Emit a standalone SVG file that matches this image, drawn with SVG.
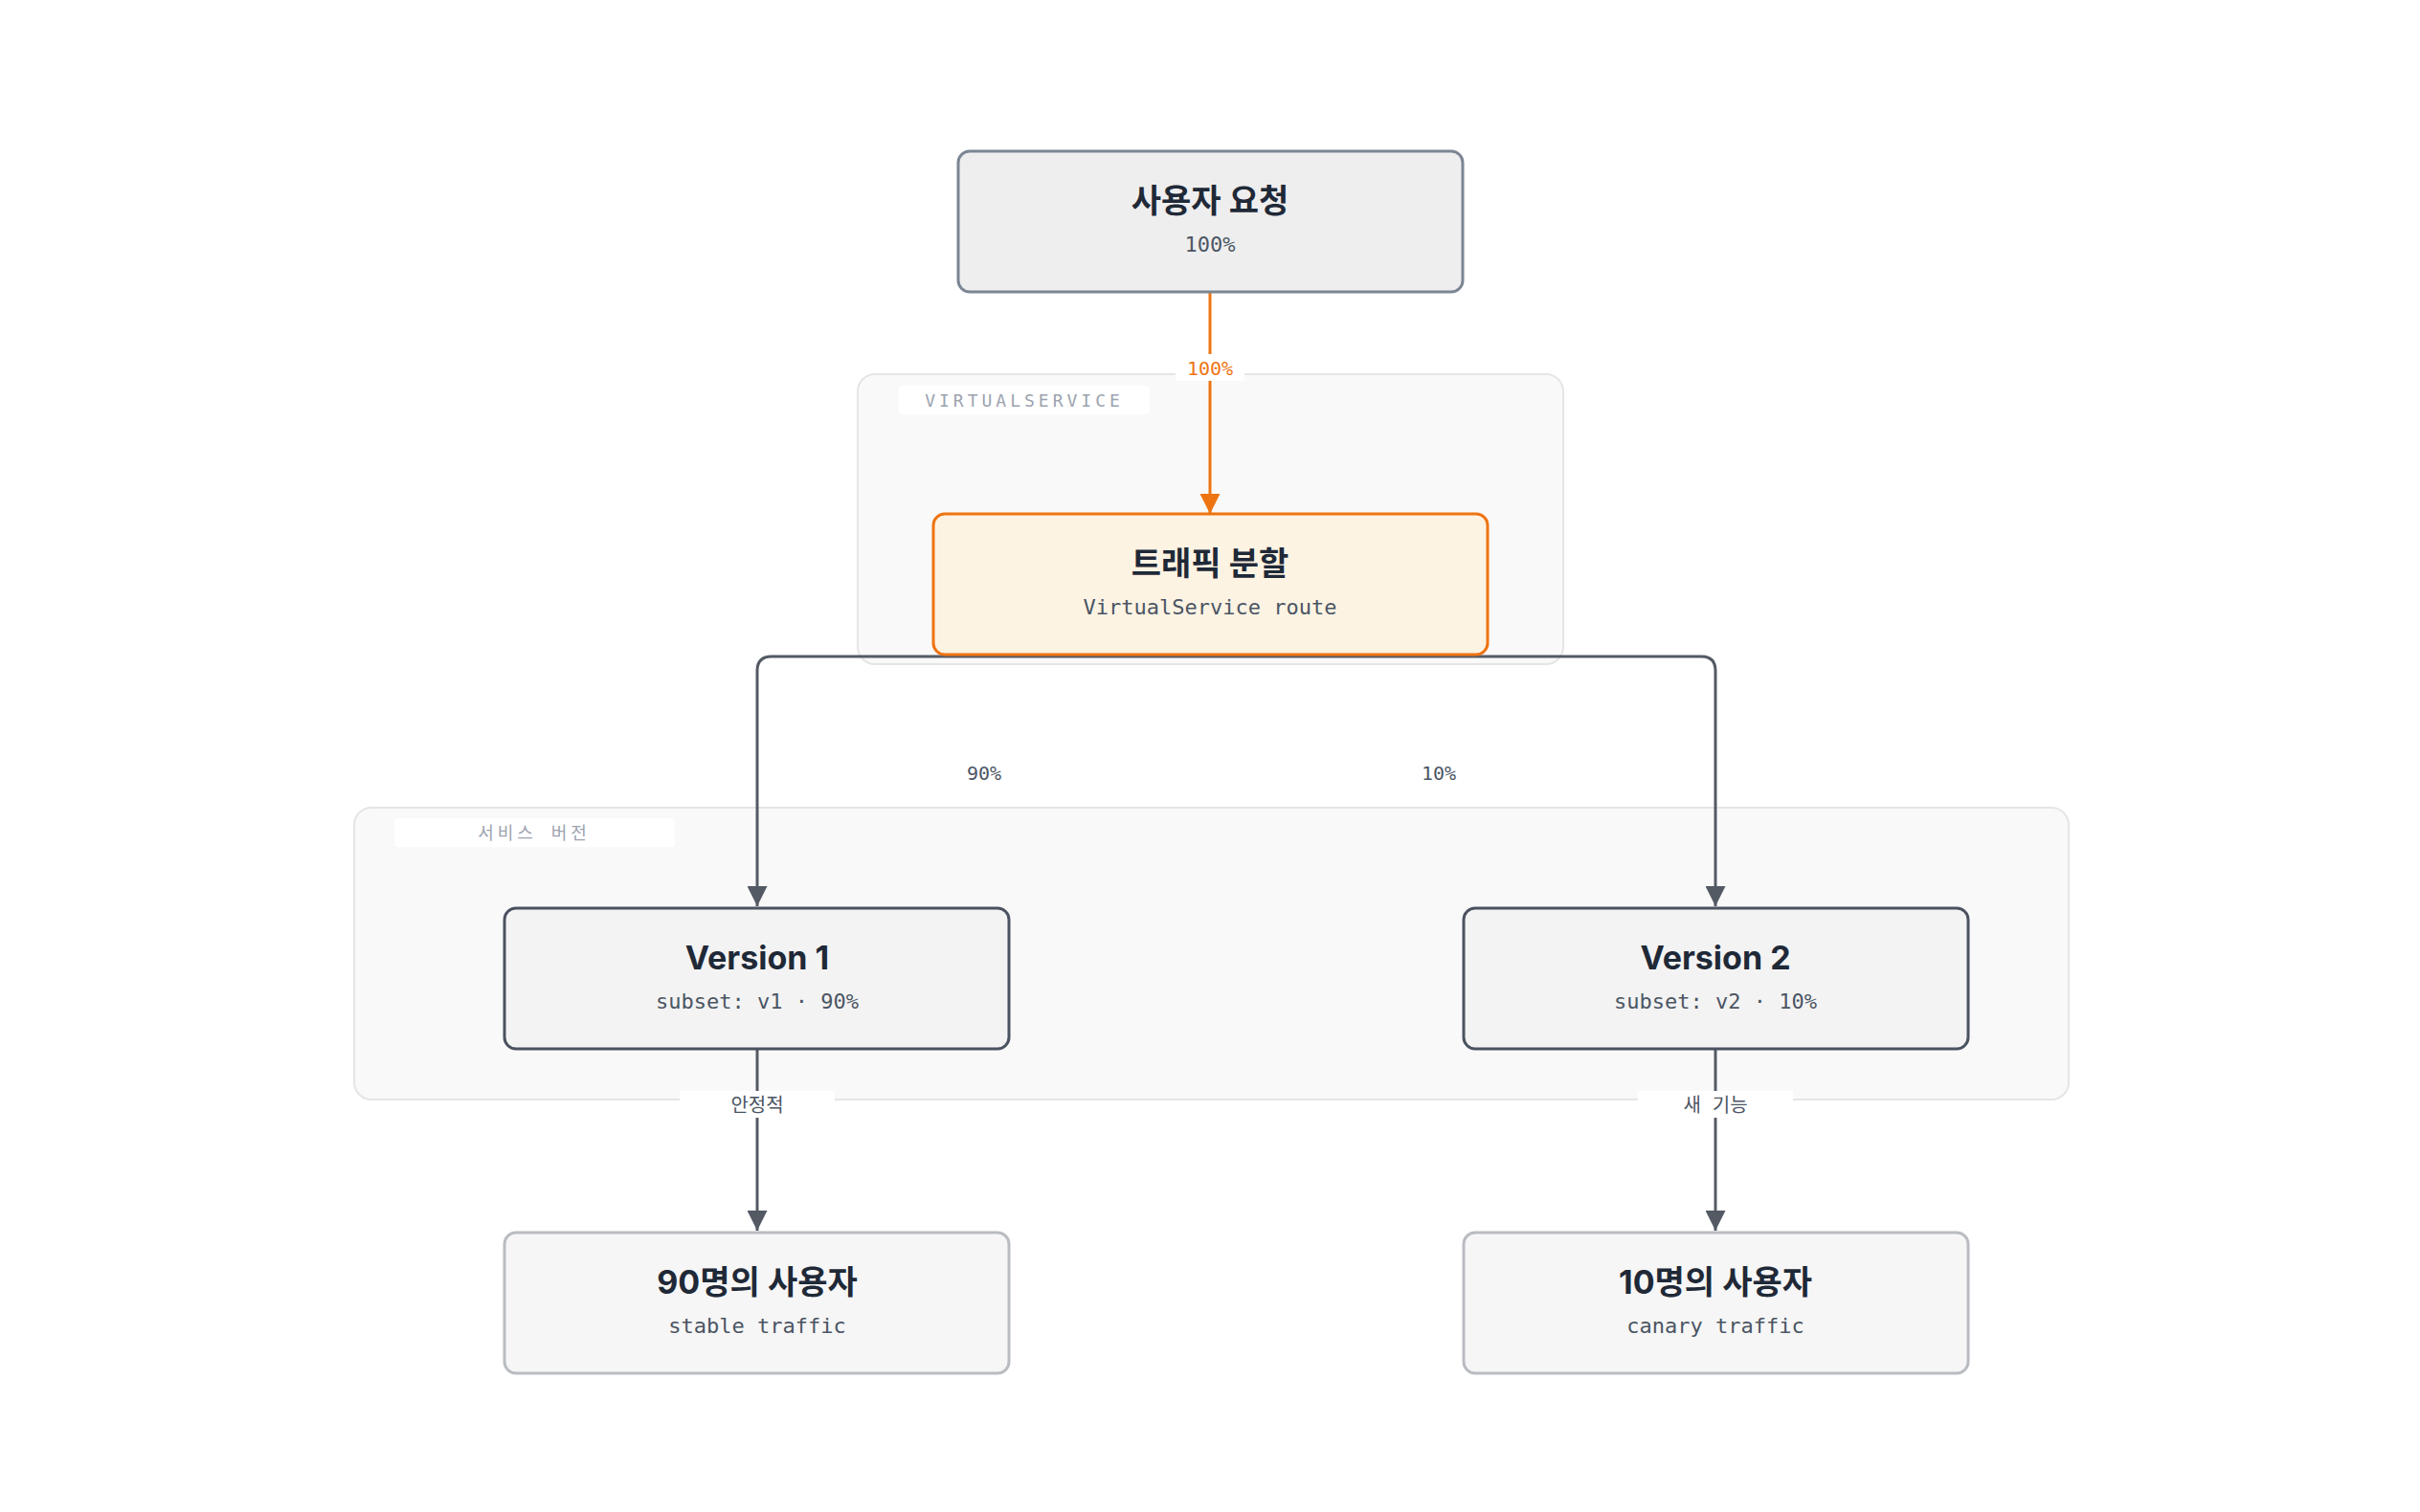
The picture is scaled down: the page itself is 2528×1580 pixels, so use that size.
<svg xmlns="http://www.w3.org/2000/svg" width="2528" height="1580" viewBox="0 0 2528 1580">
<style>
.t{font-family:Inter,"Noto Sans CJK KR",sans-serif;font-weight:700;font-size:34px;fill:#1f2937;text-anchor:middle}
.s{font-family:"DejaVu Sans Mono","Liberation Mono","Noto Sans CJK KR",monospace;font-size:22px;fill:#4b5563;text-anchor:middle}
.el{font-family:"DejaVu Sans Mono","Noto Sans CJK KR",monospace;font-size:20px;fill:#4b5563;text-anchor:middle}
.gl{font-family:"DejaVu Sans Mono","Noto Sans CJK KR",monospace;font-size:18px;fill:#9ca3af;letter-spacing:4px;text-anchor:middle}
.e{fill:none;stroke:#545a64;stroke-width:3}
</style>
<defs>
<marker id="ag" viewBox="0 0 10 10" refX="10" refY="5" markerWidth="7" markerHeight="7" orient="auto"><path d="M0,0L10,5L0,10z" fill="#545a64"/></marker>
<marker id="ao" viewBox="0 0 10 10" refX="10" refY="5" markerWidth="7" markerHeight="7" orient="auto"><path d="M0,0L10,5L0,10z" fill="#ee7411"/></marker>
</defs>
<rect width="2528" height="1580" fill="#fff"/>
<g id="group-vs">
<rect x="896" y="391" width="737" height="303" rx="18" fill="#f9f9f9" stroke="#e5e5e5" stroke-width="2"/>
<rect x="939" y="403" width="262" height="30" rx="4" fill="#fff"/>
<text class="gl" x="1070" y="425">VIRTUALSERVICE</text>
</g>
<g id="group-versions">
<rect x="370" y="844" width="1791" height="305" rx="18" fill="#f9f9f9" stroke="#e5e5e5" stroke-width="2"/>
<rect x="412" y="855" width="293" height="30" rx="4" fill="#fff"/>
<text class="gl" x="558" y="877">서비스 버전</text>
</g>
<g id="connectors">
<path d="M1264,305V537" fill="none" stroke="#ee7411" stroke-width="3" marker-end="url(#ao)"/>
<rect x="1228" y="370" width="72" height="28" fill="#fff"/>
<text class="el" x="1264" y="392" style="fill:#ee7411">100%</text>
<path class="e" d="M1264,686H806Q791,686 791,701V947" marker-end="url(#ag)"/>
<path class="e" d="M1264,686H1777Q1792,686 1792,701V947" marker-end="url(#ag)"/>
<text class="el" x="1028" y="815">90%</text>
<text class="el" x="1503" y="815">10%</text>
<path class="e" d="M791,1096V1286" marker-end="url(#ag)"/>
<path class="e" d="M1792,1096V1286" marker-end="url(#ag)"/>
<rect x="710" y="1140" width="162" height="28" fill="#fff"/>
<text class="el" x="791" y="1162">안정적</text>
<rect x="1711" y="1140" width="162" height="28" fill="#fff"/>
<text class="el" x="1792" y="1162">새 기능</text>
</g>
<g id="node-request">
<rect x="1001" y="158" width="527" height="147" rx="12" fill="#eeeeee" stroke="#7b8594" stroke-width="3"/>
<text class="t" x="1264" y="222">사용자 요청</text>
<text class="s" x="1264" y="263">100%</text>
</g>
<g id="node-split">
<rect x="975" y="537" width="579" height="147" rx="12" fill="#fdf3e3" stroke="#ee7411" stroke-width="3"/>
<text class="t" x="1264" y="601">트래픽 분할</text>
<text class="s" x="1264" y="642">VirtualService route</text>
</g>
<g id="node-v1">
<rect x="527" y="949" width="527" height="147" rx="12" fill="#f3f3f3" stroke="#4b5260" stroke-width="3"/>
<text class="t" x="791" y="1013">Version 1</text>
<text class="s" x="791" y="1054">subset: v1 · 90%</text>
</g>
<g id="node-v2">
<rect x="1529" y="949" width="527" height="147" rx="12" fill="#f3f3f3" stroke="#4b5260" stroke-width="3"/>
<text class="t" x="1792" y="1013">Version 2</text>
<text class="s" x="1792" y="1054">subset: v2 · 10%</text>
</g>
<g id="node-u90">
<rect x="527" y="1288" width="527" height="147" rx="12" fill="#f6f6f6" stroke="#b9bcc1" stroke-width="3"/>
<text class="t" x="791" y="1352">90명의 사용자</text>
<text class="s" x="791" y="1393">stable traffic</text>
</g>
<g id="node-u10">
<rect x="1529" y="1288" width="527" height="147" rx="12" fill="#f6f6f6" stroke="#b9bcc1" stroke-width="3"/>
<text class="t" x="1792" y="1352">10명의 사용자</text>
<text class="s" x="1792" y="1393">canary traffic</text>
</g>
</svg>
